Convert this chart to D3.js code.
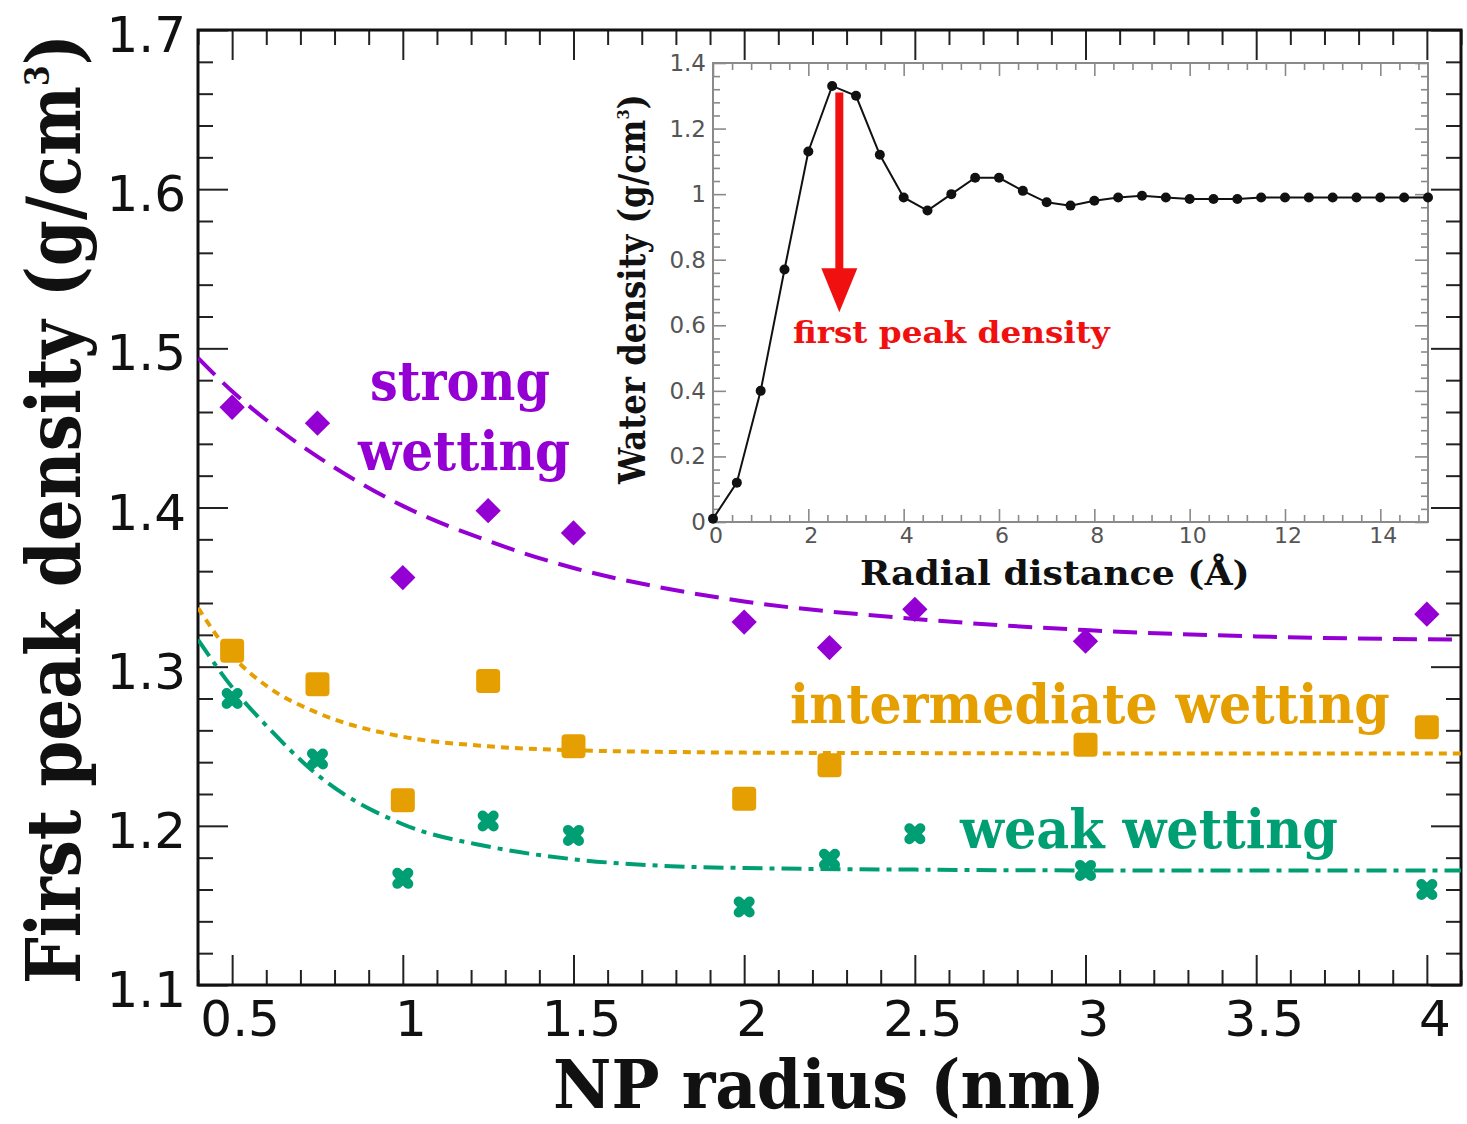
<!DOCTYPE html>
<html>
<head>
<meta charset="utf-8">
<script src="https://cdn.jsdelivr.net/npm/d3@7"></script>
<style>
  body { margin: 0; background: #fff; }
  svg { display: block; }
</style>
</head>
<body>
<svg id="chart" width="1467" height="1124"></svg>
<script>
// ---- measured first-peak water density vs nanoparticle radius ----
const radius = [0.5, 0.75, 1.0, 1.25, 1.5, 2.0, 2.25, 2.5, 3.0, 4.0];
const strongPeak = [1.463, 1.453, 1.356, 1.398, 1.384, 1.328, 1.312, 1.336, 1.316, 1.333];
const intermediateRadius = [0.5, 0.75, 1.0, 1.25, 1.5, 2.0, 2.25, 3.0, 4.0];
const intermediatePeak = [1.310, 1.289, 1.216, 1.291, 1.250, 1.217, 1.238, 1.251, 1.262];
const weakPeak = [1.280, 1.242, 1.167, 1.203, 1.194, 1.149, 1.179, 1.195, 1.172, 1.160];

// ---- fitted decay curves ----
const fitRadius = [0.4, 0.5, 0.6, 0.75, 1.0, 1.25, 1.5, 1.75, 2.0, 2.5, 3.0, 3.5, 4.1];
const strongFit = [1.494, 1.473, 1.455, 1.432, 1.401, 1.379, 1.362, 1.350, 1.341, 1.330, 1.323, 1.319, 1.317];
const intermediateFit = [1.337, 1.307, 1.288, 1.271, 1.256, 1.250, 1.2475, 1.2465, 1.246, 1.2457, 1.2455, 1.2455, 1.2455];
const weakFit = [1.317, 1.287, 1.263, 1.232, 1.201, 1.187, 1.179, 1.175, 1.1735, 1.1725, 1.172, 1.172, 1.172];

// ---- inset: radial water density profile ----
const insetDistance = [0, 0.5, 1, 1.5, 2, 2.5, 3, 3.5, 4, 4.5, 5, 5.5, 6, 6.5, 7, 7.5, 8, 8.5, 9, 9.5,
  10, 10.5, 11, 11.5, 12, 12.5, 13, 13.5, 14, 14.5, 15];
const insetDensity = [0.01, 0.12, 0.40, 0.77, 1.13, 1.33, 1.30, 1.12, 0.99, 0.95, 1.00, 1.05, 1.05, 1.01,
  0.975, 0.965, 0.98, 0.99, 0.995, 0.99, 0.985, 0.985, 0.985, 0.99, 0.99, 0.99, 0.99, 0.99, 0.99, 0.99, 0.99];
const peakArrow = { x: 2.65, from: 1.31, to: 0.64 };

// ---- tick labels ----
const xTickValues = [0.5, 1, 1.5, 2, 2.5, 3, 3.5, 4];
const yTickValues = [1.1, 1.2, 1.3, 1.4, 1.5, 1.6, 1.7];
const insetXTicks = [0, 2, 4, 6, 8, 10, 12, 14];
const insetYTicks = [0, 0.2, 0.4, 0.6, 0.8, 1.0, 1.2, 1.4];

const COLORS = { strong: "#9400d3", intermediate: "#e69f00", weak: "#009e73", arrow: "#f01010" };
const SERIF = "'DejaVu Serif Condensed', 'DejaVu Serif', serif";
const SANS = "'DejaVu Sans', sans-serif";

const svg = d3.select("#chart");

// ---------- main panel ----------
const P = { left: 198, right: 1461, top: 30, bottom: 985 };
const x = d3.scaleLinear().domain([0.4, 4.1]).range([P.left, P.right]);
const y = d3.scaleLinear().domain([1.1, 1.7]).range([P.bottom, P.top]);

svg.append("defs").append("clipPath").attr("id", "plotClip")
  .append("rect").attr("x", P.left).attr("y", P.top)
  .attr("width", P.right - P.left).attr("height", P.bottom - P.top);

const xMinor = d3.range(4, 42).map(i => i / 10).filter(v => !xTickValues.some(m => Math.abs(m - v) < 1e-9));
const yMinor = d3.range(55, 86).map(i => i / 50).filter(v => !yTickValues.some(m => Math.abs(m - v) < 1e-9));

function tickAxis(axisFn, scale, values, size, translate, color, width) {
  const g = svg.append("g").attr("transform", translate)
    .call(axisFn(scale).tickValues(values).tickSize(size).tickFormat(""));
  g.select(".domain").remove();
  g.selectAll(".tick line").attr("stroke", color).attr("stroke-width", width);
  g.selectAll(".tick text").remove();
  return g;
}
// inward ticks on all four sides
tickAxis(d3.axisBottom, x, xTickValues, -30, `translate(0,${P.bottom})`, "#222", 2);
tickAxis(d3.axisBottom, x, xMinor, -15, `translate(0,${P.bottom})`, "#222", 2);
tickAxis(d3.axisTop, x, xTickValues, -30, `translate(0,${P.top})`, "#222", 2);
tickAxis(d3.axisTop, x, xMinor, -15, `translate(0,${P.top})`, "#222", 2);
tickAxis(d3.axisLeft, y, yTickValues, -30, `translate(${P.left},0)`, "#222", 2);
tickAxis(d3.axisLeft, y, yMinor, -15, `translate(${P.left},0)`, "#222", 2);
tickAxis(d3.axisRight, y, yTickValues, -30, `translate(${P.right},0)`, "#222", 2);
tickAxis(d3.axisRight, y, yMinor, -15, `translate(${P.right},0)`, "#222", 2);

// tick labels
svg.append("g").selectAll("text").data(xTickValues).join("text")
  .attr("x", d => x(d) + 8).attr("y", 1036)
  .attr("text-anchor", "middle").attr("font-family", SANS).attr("font-size", 50)
  .attr("fill", "#111").text(d => d3.format("~g")(d));
svg.append("g").selectAll("text").data(yTickValues).join("text")
  .attr("x", 186).attr("y", d => y(d) + 22)
  .attr("text-anchor", "end").attr("font-family", SANS).attr("font-size", 50)
  .attr("fill", "#111").text(d => d3.format(".1f")(d));

// frame
svg.append("rect").attr("x", P.left).attr("y", P.top)
  .attr("width", P.right - P.left).attr("height", P.bottom - P.top)
  .attr("fill", "none").attr("stroke", "#111").attr("stroke-width", 3);

// text placed on a baseline start point and stretched to a given length
function placeText(parent, parts, px, py, length, opts) {
  const t = parent.append("text")
    .attr("font-family", opts.family || SERIF)
    .attr("font-weight", opts.weight || "bold")
    .attr("font-size", opts.size)
    .attr("fill", opts.fill || "#111");
  parts.forEach(p => {
    const s = t.append("tspan").text(p.text);
    if (p.sup) s.attr("dy", -opts.size * 0.42).attr("font-size", opts.size * 0.45);
    if (p.after) s.attr("dy", opts.size * 0.42);
  });
  const natural = t.node().getComputedTextLength();
  const k = length / natural;
  t.attr("transform", `translate(${px},${py}) rotate(${opts.rotate || 0}) scale(${k},1)`);
  return t;
}

// axis titles
placeText(svg, [{ text: "First peak density (g/cm" }, { text: "3", sup: true }, { text: ")", after: true }],
  80, 984, 950, { size: 74, rotate: -90 });
placeText(svg, [{ text: "NP radius (nm)" }], 553, 1108, 552, { size: 68 });

// fitted curves
const plotG = svg.append("g").attr("clip-path", "url(#plotClip)");
const fitLine = vals => d3.line()
  .x((d, i) => x(fitRadius[i]))
  .y(d => y(d))
  .curve(d3.curveMonotoneX)(vals);

plotG.append("path").attr("d", fitLine(strongFit))
  .attr("fill", "none").attr("stroke", COLORS.strong).attr("stroke-width", 4)
  .attr("stroke-dasharray", "24,11");
plotG.append("path").attr("d", fitLine(intermediateFit))
  .attr("fill", "none").attr("stroke", COLORS.intermediate).attr("stroke-width", 4)
  .attr("stroke-dasharray", "8,6");
plotG.append("path").attr("d", fitLine(weakFit))
  .attr("fill", "none").attr("stroke", COLORS.weak).attr("stroke-width", 4)
  .attr("stroke-dasharray", "20,7,5,7");

// markers
const diamond = d3.symbol().type(d3.symbolSquare).size(320)();
plotG.append("g").selectAll("path").data(strongPeak).join("path")
  .attr("d", diamond)
  .attr("transform", (d, i) => `translate(${x(radius[i])},${y(d)}) rotate(45)`)
  .attr("fill", COLORS.strong);

plotG.append("g").selectAll("rect").data(intermediatePeak).join("rect")
  .attr("x", (d, i) => x(intermediateRadius[i]) - 12)
  .attr("y", d => y(d) - 12)
  .attr("width", 24).attr("height", 24).attr("rx", 4)
  .attr("fill", COLORS.intermediate);

plotG.append("g").selectAll("path").data(weakPeak).join("path")
  .attr("d", "M-5.5,-5.5L5.5,5.5M-5.5,5.5L5.5,-5.5")
  .attr("transform", (d, i) => `translate(${x(radius[i])},${y(d)})`)
  .attr("stroke", COLORS.weak).attr("stroke-width", 10).attr("stroke-linecap", "round")
  .attr("fill", "none");

// series annotations
placeText(svg, [{ text: "strong" }], 370, 400, 180, { size: 54, fill: COLORS.strong });
placeText(svg, [{ text: "wetting" }], 358, 470, 212, { size: 54, fill: COLORS.strong });
placeText(svg, [{ text: "intermediate wetting" }], 790, 723, 600, { size: 54, fill: COLORS.intermediate });
placeText(svg, [{ text: "weak wetting" }], 960, 848, 378, { size: 54, fill: COLORS.weak });

// ---------- inset panel ----------
const I = { left: 713, right: 1428, top: 63, bottom: 522 };
const ix = d3.scaleLinear().domain([0, 15]).range([I.left, I.right]);
const iy = d3.scaleLinear().domain([0, 1.4]).range([I.bottom, I.top]);

svg.append("rect").attr("x", I.left).attr("y", I.top)
  .attr("width", I.right - I.left).attr("height", I.bottom - I.top)
  .attr("fill", "#fff");

const insetXMinor = d3.range(0, 38).map(i => i * 0.4).filter(v => v <= 15 && Math.abs(v / 2 - Math.round(v / 2)) > 1e-6);
const insetYMinor = d3.range(0, 36).map(i => i * 0.04).filter(v => v <= 1.4 && Math.abs(v / 0.2 - Math.round(v / 0.2)) > 1e-6);
const IC = "#8a8a8a";
tickAxis(d3.axisBottom, ix, insetXTicks, -13, `translate(0,${I.bottom})`, IC, 1.6);
tickAxis(d3.axisBottom, ix, insetXMinor, -7, `translate(0,${I.bottom})`, IC, 1.6);
tickAxis(d3.axisTop, ix, insetXTicks, -13, `translate(0,${I.top})`, IC, 1.6);
tickAxis(d3.axisTop, ix, insetXMinor, -7, `translate(0,${I.top})`, IC, 1.6);
tickAxis(d3.axisLeft, iy, insetYTicks, -13, `translate(${I.left},0)`, IC, 1.6);
tickAxis(d3.axisLeft, iy, insetYMinor, -7, `translate(${I.left},0)`, IC, 1.6);
tickAxis(d3.axisRight, iy, insetYTicks, -13, `translate(${I.right},0)`, IC, 1.6);
tickAxis(d3.axisRight, iy, insetYMinor, -7, `translate(${I.right},0)`, IC, 1.6);

svg.append("rect").attr("x", I.left).attr("y", I.top)
  .attr("width", I.right - I.left).attr("height", I.bottom - I.top)
  .attr("fill", "none").attr("stroke", IC).attr("stroke-width", 2);

svg.append("g").selectAll("text").data(insetXTicks).join("text")
  .attr("x", d => ix(d) + 3).attr("y", 543)
  .attr("text-anchor", "middle").attr("font-family", SANS).attr("font-size", 22)
  .attr("fill", "#555").text(d => d3.format("~g")(d));
svg.append("g").selectAll("text").data(insetYTicks).join("text")
  .attr("x", 706).attr("y", d => iy(d) + 8)
  .attr("text-anchor", "end").attr("font-family", SANS).attr("font-size", 23)
  .attr("fill", "#555").text(d => d3.format("~g")(d));

placeText(svg, [{ text: "Water density (g/cm" }, { text: "3", sup: true }, { text: ")", after: true }],
  645, 484, 390, { size: 37, rotate: -90 });
placeText(svg, [{ text: "Radial distance (Å)" }], 860, 585, 390, { size: 34 });

// density profile
svg.append("path")
  .attr("d", d3.line().x((d, i) => ix(insetDistance[i])).y(d => iy(d))(insetDensity))
  .attr("fill", "none").attr("stroke", "#111").attr("stroke-width", 2);
svg.append("g").selectAll("circle").data(insetDensity).join("circle")
  .attr("cx", (d, i) => ix(insetDistance[i])).attr("cy", d => iy(d)).attr("r", 5)
  .attr("fill", "#111");

// first-peak arrow
const ax = ix(peakArrow.x), aTop = iy(peakArrow.from), aTip = iy(peakArrow.to);
svg.append("line").attr("x1", ax).attr("x2", ax).attr("y1", aTop).attr("y2", aTip - 40)
  .attr("stroke", COLORS.arrow).attr("stroke-width", 8);
svg.append("path")
  .attr("d", `M${ax - 18},${aTip - 44}L${ax + 18},${aTip - 44}L${ax},${aTip}Z`)
  .attr("fill", COLORS.arrow);
placeText(svg, [{ text: "first peak density" }], 793, 343, 317, { size: 30, fill: COLORS.arrow });
</script>
</body>
</html>
